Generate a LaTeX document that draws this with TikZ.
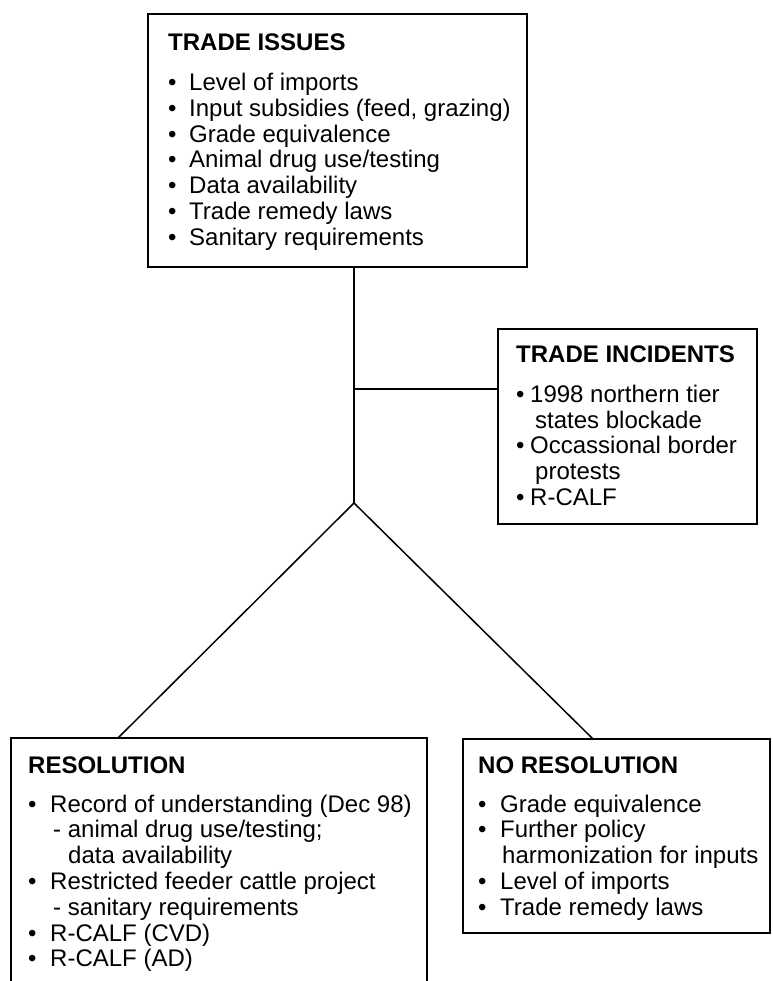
\documentclass[tikz,border=0pt]{standalone}
\usepackage{fontspec}
\setmainfont{Liberation Sans}
\usepackage{tikz}
\usetikzlibrary{calc}

\newcommand{\bull}[1][21pt]{\makebox[#1][l]{•}}
\newcommand{\hd}[1]{\textbf{#1}}

\tikzset{
  box/.style={draw, line width=2pt, inner sep=0pt},
  txt/.style={anchor=base west, inner sep=0pt, font=\fontsize{24}{25.8}\selectfont},
  trunk/.style={line width=2.7pt},
  branch/.style={line width=1.5pt},
}

\begin{document}
\begin{tikzpicture}[x=1pt, y=-1pt]
    \useasboundingbox (0,0) rectangle (772,981);
    \clip (0,0) rectangle (772,981);

    % boxes
    \node [box, minimum width=379pt, minimum height=253pt] (issues) at (337.5,140.5) {};
    \node [box, minimum width=259pt, minimum height=195pt] (incidents) at (627.5,426.5) {};
    \node [box, minimum width=416pt, minimum height=290pt] (resol) at (219,883) {};
    \node [box, minimum width=307pt, minimum height=194pt] (nores) at (616.5,836) {};

    % texts
    \node [txt] (issues-t) at (168,51) {\begin{tabular}[t]{@{}l@{}}
        \hd{TRADE ISSUES}\\[13.7pt]
        \bull Level of imports\\
        \bull Input subsidies (feed, grazing)\\
        \bull Grade equivalence\\
        \bull Animal drug use/testing\\
        \bull Data availability\\
        \bull Trade remedy laws\\
        \bull Sanitary requirements
    \end{tabular}};
    \node [txt] (incidents-t) at (516,362) {\begin{tabular}[t]{@{}l@{}}
        \hd{TRADE INCIDENTS}\\[14.5pt]
        \bull[14pt]1998 northern tier\\
        \hspace*{19pt}states blockade\\
        \bull[14pt]Occassional border\\
        \hspace*{19pt}protests\\
        \bull[14pt]R-CALF
    \end{tabular}};
    \node [txt] (resol-t) at (28,773) {\begin{tabular}[t]{@{}l@{}}
        \hd{RESOLUTION}\\[13.2pt]
        \bull[22pt]Record of understanding (Dec 98)\\
        \hspace*{25pt}- animal drug use/testing;\\
        \hspace*{40pt}data availability\\
        \bull[22pt]Restricted feeder cattle project\\
        \hspace*{25pt}- sanitary requirements\\
        \bull[22pt]R-CALF (CVD)\\
        \bull[22pt]R-CALF (AD)
    \end{tabular}};
    \node [txt] (nores-t) at (478,773) {\begin{tabular}[t]{@{}l@{}}
        \hd{NO RESOLUTION}\\[13.2pt]
        \bull[22pt]Grade equivalence\\
        \bull[22pt]Further policy\\
        \hspace*{24pt}harmonization for inputs\\
        \bull[22pt]Level of imports\\
        \bull[22pt]Trade remedy laws
    \end{tabular}};

    % connectors
    \coordinate (apex) at (354,503);
    \coordinate (tee) at (354,389);
    \coordinate (lfoot) at (118,738);
    \coordinate (rfoot) at (593,739);
    \draw [trunk] (apex |- issues.south) -- (apex);
    \draw [trunk] (tee) -- (tee -| incidents.west);
    \draw [branch] (apex) -- (lfoot);
    \draw [branch] (apex) -- (rfoot);
\end{tikzpicture}
\end{document}
